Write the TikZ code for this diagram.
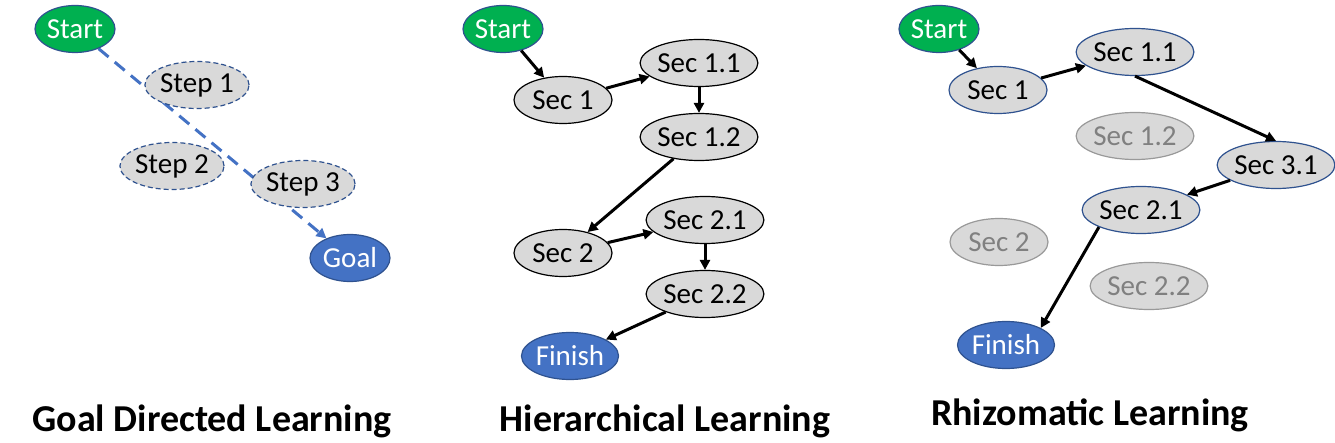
\documentclass[tikz,border=0pt]{standalone}
\usepackage{fontspec}
\setmainfont{Carlito}
\usetikzlibrary{shapes.geometric,arrows.meta,backgrounds}
\definecolor{startgreen}{HTML}{00B050}
\definecolor{goalblue}{HTML}{4472C4}
\definecolor{edgeblue}{HTML}{2F528F}
\definecolor{secgray}{HTML}{D9D9D9}
\definecolor{fadegray}{HTML}{808080}
\tikzset{
  oval/.style={ellipse,inner sep=0pt,minimum height=47pt,line width=1.2pt,
    font=\fontsize{29}{31}\selectfont},
  startnode/.style={oval,minimum width=80pt,fill=startgreen,draw=edgeblue,text=white},
  endnode/.style={oval,minimum width=97pt,fill=goalblue,draw=edgeblue,text=white},
  stepnode/.style={oval,minimum width=98pt,fill=secgray,draw=edgeblue,dashed,
    dash pattern=on 5pt off 3pt},
  secnode/.style={oval,minimum width=98pt,fill=secgray,draw=black},
  widenode/.style={minimum width=112pt},
  pathnode/.style={secnode,draw=edgeblue},
  fadenode/.style={secnode,draw=fadegray!80,text=fadegray},
  flow/.style={line width=3pt,-{Triangle[length=10pt,width=10pt]}},
  title/.style={font=\fontsize{38}{40}\selectfont\bfseries}
}
\begin{document}
\begin{tikzpicture}[x=1pt,y=-1pt]
  \useasboundingbox (0,0) rectangle (1335,443);
  % goal directed
  \node[startnode] (gstart) at (75,29) {Start};
  \node[stepnode] (gstep1) at (197,85) {Step 1};
  \node[stepnode] (gstep2) at (172,166) {Step 2};
  \node[stepnode] (gstep3) at (303,184) {Step 3};
  \node[endnode,minimum width=80pt] (ggoal) at (350,258) {Goal};
  \begin{scope}[on background layer]
    \draw[line width=3pt,goalblue,dash pattern=on 13pt off 8pt,
      -{Triangle[length=10pt,width=10pt]}] (gstart) -- (ggoal);
  \end{scope}
  \node[title] (gtitle) at (212,421) {Goal Directed Learning};
  % hierarchical
  \node[startnode] (hstart) at (503,29) {Start};
  \node[secnode] (hsec1) at (563,100) {Sec 1};
  \node[secnode,widenode] (hsec11) at (699,63) {Sec 1.1};
  \node[secnode,widenode] (hsec12) at (699,137) {Sec 1.2};
  \node[secnode] (hsec2) at (563,253) {Sec 2};
  \node[secnode,widenode] (hsec21) at (705,220) {Sec 2.1};
  \node[secnode,widenode] (hsec22) at (705,294) {Sec 2.2};
  \node[endnode] (hfinish) at (570,356) {Finish};
  \draw[flow] (hstart) -- (hsec1);
  \draw[flow] (hsec1) -- (hsec11);
  \draw[flow] (hsec11) -- (hsec12);
  \draw[flow] (hsec12) -- (hsec2);
  \draw[flow] (hsec2) -- (hsec21);
  \draw[flow] (hsec21) -- (hsec22);
  \draw[flow] (hsec22) -- (hfinish);
  \node[title] (htitle) at (665,421) {Hierarchical Learning};
  % rhizomatic
  \node[startnode] (rstart) at (939,29) {Start};
  \node[pathnode] (rsec1) at (998,90) {Sec 1};
  \node[pathnode,widenode] (rsec11) at (1135,52) {Sec 1.1};
  \node[fadenode,widenode] (rsec12) at (1135,136) {Sec 1.2};
  \node[pathnode,widenode] (rsec31) at (1276,165) {Sec 3.1};
  \node[pathnode,widenode] (rsec21) at (1141,210) {Sec 2.1};
  \node[fadenode] (rsec2) at (999,242) {Sec 2};
  \node[fadenode,widenode] (rsec22) at (1149,286) {Sec 2.2};
  \node[endnode] (rfinish) at (1006,345) {Finish};
  \draw[flow] (rstart) -- (rsec1);
  \draw[flow] (rsec1) -- (rsec11);
  \draw[flow] (rsec11.south) -- (rsec31.north);
  \draw[flow] (rsec31) -- (rsec21);
  \draw[flow] (rsec21.south west) -- (rfinish.north east);
  \node[title] (rtitle) at (1090,415) {Rhizomatic Learning};
\end{tikzpicture}
\end{document}
